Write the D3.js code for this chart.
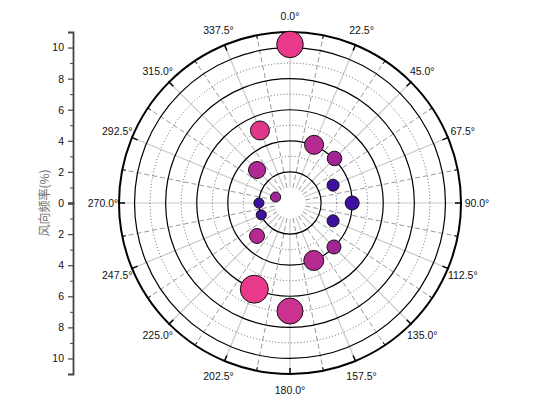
<!DOCTYPE html>
<html>
<head>
<meta charset="utf-8">
<script src="https://cdn.jsdelivr.net/npm/d3@7"></script>
<style>
  body { margin: 0; background: #fff; }
  svg { font-family: "Liberation Sans", Arial, sans-serif; }
</style>
</head>
<body>
<svg width="560" height="420"></svg>
<script>
// wind direction (deg), frequency (%), bubble value, colour value
const directions = [0, 22.5, 45, 67.5, 90, 112.5, 135, 157.5, 180, 202.5, 225, 247.5, 270, 292.5, 315, 337.5];
const frequency = [10.2, 4.05, 4.05, 3.0, 4.0, 3.0, 4.0, 4.0, 6.95, 6.0, 3.0, 2.0, 2.0, 1.0, 3.0, 5.05];
const bubbleVal = [180, 92, 54, 37, 50, 37, 50, 102, 172, 200, 57, 26, 26, 26, 74, 92];
const colorVal = [1.0, 0.66, 0.52, 0.0, 0.0, 0.0, 0.52, 0.66, 0.8, 1.0, 0.66, 0.0, 0.0, 0.52, 0.62, 0.95];
const ringSolid = [2, 4, 6, 8, 10];
const ringDotted = [3, 5, 7, 9];
const axisMajorTop = [0, 2, 4, 6, 8, 10];
const axisMajorBot = [2, 4, 6, 8, 10];
const axisMinor = [1, 3, 5, 7, 9];
const yLabel = "风向频率(%)";

const svg = d3.select("svg");
const cx = 290;
const cy = 203;
const R = 171;
const rMax = 11;

const rScale = d3.scaleLinear().domain([0, rMax]).range([0, R]);
const sizeScale = d3.scaleSqrt().domain([0, 200]).range([0, 14]);
const color = d3
  .scaleLinear()
  .domain([0, 0.5, 1])
  .range(["#3d10a0", "#9f2496", "#e8398a"]);

const rad = (a) => (a * Math.PI) / 180;
const px = (a, r) => Math.sin(rad(a)) * r;
const py = (a, r) => -Math.cos(rad(a)) * r;

const g = svg.append("g").attr("transform", `translate(${cx}, ${cy})`);

// radial grid lines
const majorAngles = d3.range(0, 360, 22.5);
const minorAngles = majorAngles.map((a) => a + 11.25);
const r0 = rScale(1);

g.selectAll(".spoke-major")
  .data(majorAngles)
  .enter()
  .append("line")
  .attr("x1", (d) => px(d, r0))
  .attr("y1", (d) => py(d, r0))
  .attr("x2", (d) => px(d, R))
  .attr("y2", (d) => py(d, R))
  .attr("stroke", "#c8c8c8")
  .attr("stroke-width", 1.2);

g.selectAll(".spoke-minor")
  .data(minorAngles)
  .enter()
  .append("line")
  .attr("x1", (d) => px(d, r0))
  .attr("y1", (d) => py(d, r0))
  .attr("x2", (d) => px(d, R))
  .attr("y2", (d) => py(d, R))
  .attr("stroke", "#808080")
  .attr("stroke-width", 0.8)
  .attr("stroke-dasharray", "5,3");

// rings
g.selectAll(".ring-dot")
  .data(ringDotted)
  .enter()
  .append("circle")
  .attr("r", (d) => rScale(d))
  .attr("fill", "none")
  .attr("stroke", "#555")
  .attr("stroke-width", 0.9)
  .attr("stroke-dasharray", "1,2.2");

g.selectAll(".ring")
  .data(ringSolid)
  .enter()
  .append("circle")
  .attr("r", (d) => rScale(d))
  .attr("fill", "none")
  .attr("stroke", "#000")
  .attr("stroke-width", 1.2);

g.append("circle")
  .attr("r", R)
  .attr("fill", "none")
  .attr("stroke", "#000")
  .attr("stroke-width", 2);

// ticks on outer circle
g.selectAll(".tick-major")
  .data(majorAngles)
  .enter()
  .append("line")
  .attr("x1", (d) => px(d, R - 6))
  .attr("y1", (d) => py(d, R - 6))
  .attr("x2", (d) => px(d, R + 1))
  .attr("y2", (d) => py(d, R + 1))
  .attr("stroke", "#000")
  .attr("stroke-width", 1.5);

g.selectAll(".tick-minor")
  .data(minorAngles)
  .enter()
  .append("line")
  .attr("x1", (d) => px(d, R - 3.5))
  .attr("y1", (d) => py(d, R - 3.5))
  .attr("x2", (d) => px(d, R))
  .attr("y2", (d) => py(d, R))
  .attr("stroke", "#000")
  .attr("stroke-width", 1);

// angle labels
g.selectAll(".angle-label")
  .data(majorAngles)
  .enter()
  .append("text")
  .attr("x", (d) => px(d, R + 16))
  .attr("y", (d) => py(d, R + 16))
  .attr("text-anchor", "middle")
  .attr("dominant-baseline", "central")
  .attr("font-size", 10.5)
  .attr("fill", "#111")
  .text((d) => d3.format(".1f")(d) + "°");

// bubbles
const points = directions.map((d, i) => ({
  dir: d,
  freq: frequency[i],
  size: bubbleVal[i],
  c: colorVal[i],
}));

g.selectAll(".bubble")
  .data(points)
  .enter()
  .append("circle")
  .attr("cx", (d) => px(d.dir, rScale(d.freq)))
  .attr("cy", (d) => py(d.dir, rScale(d.freq)))
  .attr("r", (d) => sizeScale(d.size))
  .attr("fill", (d) => color(d.c))
  .attr("stroke", "#111")
  .attr("stroke-width", 1);

// left radial axis (mirrored)
const axX = 73;
const yTop = d3.scaleLinear().domain([0, rMax]).range([cy, cy - R]);
const yBot = d3.scaleLinear().domain([0, rMax]).range([cy, cy + R]);

[[yTop, axisMajorTop], [yBot, axisMajorBot]].forEach(([sc, vals]) => {
  const axG = svg
    .append("g")
    .attr("transform", `translate(${axX}, 0)`)
    .call(
      d3.axisLeft(sc).tickValues(vals).tickSize(5).tickPadding(4).tickFormat(d3.format("d"))
    );
  axG.select(".domain").attr("stroke", "#444").attr("stroke-width", 1.8);
  axG.selectAll(".tick line").attr("stroke", "#444").attr("stroke-width", 1.2);
  axG.selectAll(".tick text").attr("font-size", 10.5).attr("fill", "#111")
    .attr("font-family", "Liberation Sans, Arial, sans-serif");

  const minorG = svg
    .append("g")
    .attr("transform", `translate(${axX}, 0)`)
    .call(d3.axisLeft(sc).tickValues(axisMinor).tickSize(3).tickFormat(""));
  minorG.select(".domain").remove();
  minorG.selectAll(".tick line").attr("stroke", "#444").attr("stroke-width", 1);
});

svg
  .append("text")
  .attr("transform", `translate(43, ${cy}) rotate(-90)`)
  .attr("text-anchor", "middle")
  .attr("dominant-baseline", "central")
  .attr("font-size", 12)
  .attr("fill", "#6f6f6f")
  .attr("font-family", "Noto Sans CJK SC, sans-serif")
  .text(yLabel);
</script>
</body>
</html>
